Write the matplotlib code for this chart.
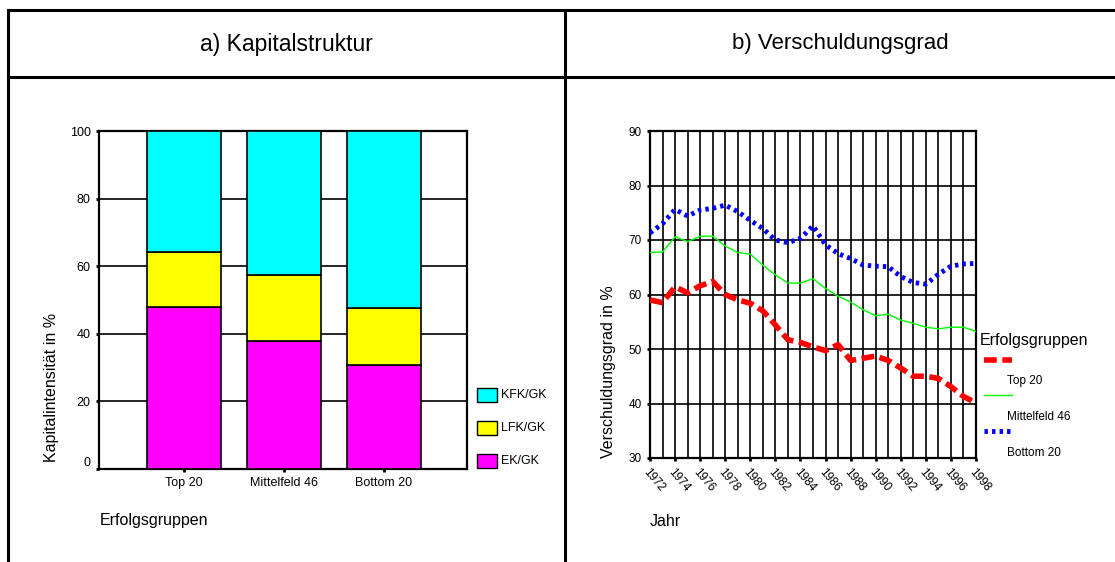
import matplotlib
matplotlib.use("Agg")
import matplotlib.pyplot as plt
from matplotlib.lines import Line2D
from matplotlib.patches import Rectangle

plt.rcParams['font.family'] = ['Liberation Sans', 'DejaVu Sans']

# a) Kapitalstruktur
gruppen = ['Top 20', 'Mittelfeld 46', 'Bottom 20']
ek_gk = [48.0, 37.9, 30.7]
lfk_gk = [16.3, 19.4, 16.9]
kfk_gk = [35.7, 42.7, 52.4]

# b) Verschuldungsgrad
jahre = list(range(1972, 1999))
top20 = [59.0, 58.5, 61.4, 60.3, 61.6, 62.4, 60.0, 59.0, 58.4, 57.0, 54.4, 51.7, 51.2,
         50.4, 49.7, 50.8, 47.9, 48.3, 48.7, 47.9, 46.5, 45.0, 45.0, 44.6, 43.1, 41.3, 40.1]
mittelfeld46 = [67.7, 67.8, 70.6, 69.7, 70.7, 70.7, 68.9, 67.7, 67.4, 65.4, 63.6, 62.1, 62.1,
                62.9, 61.1, 59.7, 58.6, 57.2, 56.1, 56.4, 55.3, 54.7, 54.0, 53.7, 54.0, 54.0, 53.2]
bottom20 = [71.3, 73.0, 75.6, 74.4, 75.5, 75.8, 76.4, 75.2, 73.6, 72.1, 70.0, 69.5, 70.3,
            72.6, 69.1, 67.5, 66.6, 65.4, 65.2, 65.1, 63.3, 62.2, 61.9, 63.7, 65.2, 65.6, 65.7]

W, H = 1115, 562
fig = plt.figure(figsize=(W / 100, H / 100), dpi=100)

def fx(px):
    return px / W

def fy(py):
    return 1 - py / H

red_dash = (2.3, 1.0)
blue_dot = (0.7, 0.85)

# table frame
lw_frame = 2.2
fig.add_artist(Line2D([fx(8), 1], [fy(10), fy(10)], color='black', lw=lw_frame))
fig.add_artist(Line2D([fx(8), 1], [fy(77), fy(77)], color='black', lw=lw_frame))
fig.add_artist(Line2D([fx(8), fx(8)], [fy(10), 0], color='black', lw=lw_frame))
fig.add_artist(Line2D([fx(565), fx(565)], [fy(10), 0], color='black', lw=lw_frame))

fig.text(fx(286), fy(44), 'a) Kapitalstruktur', fontsize=16.5, ha='center', va='center')
fig.text(fx(840), fy(44), 'b) Verschuldungsgrad', fontsize=16, ha='center', va='center')

# ---- left chart
ax1 = fig.add_axes([fx(99), fy(469), fx(467 - 99), (469 - 131) / H])
x = range(len(gruppen))
bw = 0.74
ax1.bar(x, ek_gk, bw, color='#ff00ff', edgecolor='black', lw=1.2, zorder=3)
ax1.bar(x, lfk_gk, bw, bottom=ek_gk, color='#ffff00', edgecolor='black', lw=1.2, zorder=3)
bot2 = [a + b for a, b in zip(ek_gk, lfk_gk)]
ax1.bar(x, kfk_gk, bw, bottom=bot2, color='#00ffff', edgecolor='black', lw=1.2, zorder=3)
ax1.set_xlim(-0.85, 2.83)
ax1.set_ylim(0, 100)
ax1.set_yticks([0, 20, 40, 60, 80, 100])
ax1.set_xticks(list(x))
ax1.set_xticklabels(gruppen)
ax1.grid(axis='y', color='black', lw=1.2, zorder=0)
ax1.set_axisbelow(True)
for s in ax1.spines.values():
    s.set_linewidth(1.6)
ax1.tick_params(labelsize=9, length=2, width=2, pad=4)
ax1.get_yticklabels()[0].set_va('bottom')

fig.text(fx(52), fy(462), 'Kapitalintensität in %', rotation=90, fontsize=11.5,
         ha='center', va='bottom')
fig.text(fx(100), fy(521), 'Erfolgsgruppen', fontsize=11.5, ha='left', va='center')

leg_items = [('KFK/GK', '#00ffff', 395), ('LFK/GK', '#ffff00', 428), ('EK/GK', '#ff00ff', 461)]
for lab, col, yc in leg_items:
    fig.add_artist(Rectangle((fx(477), fy(yc + 7)), fx(20), 14 / H, facecolor=col,
                             edgecolor='black', lw=1))
    fig.text(fx(501), fy(yc), lab, fontsize=9, ha='left', va='center')

# ---- right chart
ax2 = fig.add_axes([fx(650), fy(458), fx(976 - 650), (458 - 131) / H])
ax2.plot(jahre, top20, color='#ff0000', lw=4, dashes=red_dash, zorder=3)
ax2.plot(jahre, mittelfeld46, color='#00ff00', lw=1, zorder=3)
ax2.plot(jahre, bottom20, color='#0000ff', lw=3.5, dashes=blue_dot, zorder=3)
ax2.set_xlim(1972, 1998)
ax2.set_ylim(30, 90)
ax2.set_yticks(range(30, 91, 10))
ax2.set_xticks(range(1972, 1999, 2))
ax2.set_xticks(jahre, minor=True)
ax2.set_xticklabels([str(j) for j in range(1972, 1999, 2)], rotation=-50,
                    ha='left', va='top', rotation_mode='anchor')
ax2.grid(axis='y', color='black', lw=1.2, zorder=0)
ax2.grid(axis='x', which='both', color='black', lw=1.2, zorder=0)
for s in ax2.spines.values():
    s.set_linewidth(1.6)
ax2.tick_params(labelsize=8.5, length=2, width=2, pad=4)
ax2.tick_params(axis='x', which='minor', length=0)

fig.text(fx(609), fy(458), 'Verschuldungsgrad in %', rotation=90, fontsize=11.5,
         ha='center', va='bottom')
fig.text(fx(650), fy(521), 'Jahr', fontsize=11.5, ha='left', va='center')

fig.text(fx(980), fy(341), 'Erfolgsgruppen', fontsize=11.5, ha='left', va='center')
fig.add_artist(Line2D([fx(984), fx(1012)], [fy(360), fy(360)], color='#ff0000', lw=4,
                      dashes=red_dash))
fig.text(fx(1007), fy(381), 'Top 20', fontsize=8.5, ha='left', va='center')
fig.add_artist(Line2D([fx(984), fx(1012)], [fy(395), fy(395)], color='#00ff00', lw=1))
fig.text(fx(1007), fy(417), 'Mittelfeld 46', fontsize=8.5, ha='left', va='center')
fig.add_artist(Line2D([fx(984), fx(1012)], [fy(431), fy(431)], color='#0000ff', lw=3.5,
                      dashes=blue_dot))
fig.text(fx(1007), fy(453), 'Bottom 20', fontsize=8.5, ha='left', va='center')

fig.savefig('out.png', dpi=100)
